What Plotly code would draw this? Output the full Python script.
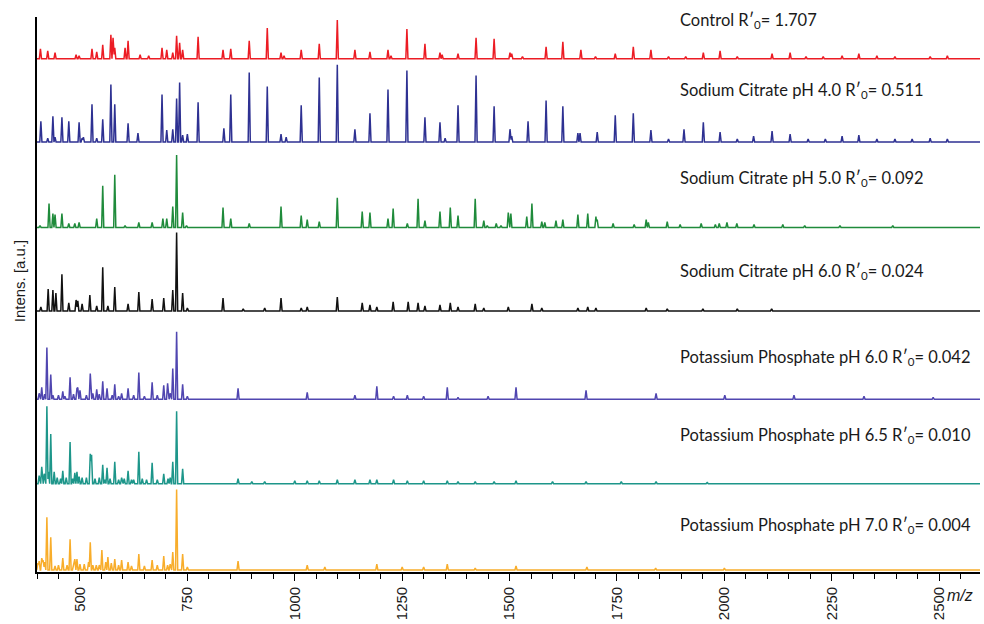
import numpy as np
import plotly.graph_objects as go

# ---------------- data ----------------
sample_names = [
    "Control R′<sub>0</sub>= 1.707",
    "Sodium Citrate pH 4.0 R′<sub>0</sub>= 0.511",
    "Sodium Citrate pH 5.0 R′<sub>0</sub>= 0.092",
    "Sodium Citrate pH 6.0 R′<sub>0</sub>= 0.024",
    "Potassium Phosphate pH 6.0 R′<sub>0</sub>= 0.042",
    "Potassium Phosphate pH 6.5 R′<sub>0</sub>= 0.010",
    "Potassium Phosphate pH 7.0 R′<sub>0</sub>= 0.004",
]

control_mz = [408, 425, 442, 491, 498, 528, 539, 553, 572, 577, 581, 605, 612, 640, 660, 691, 702, 716, 725, 732,
              739, 775, 833, 851, 894, 936, 968, 975, 1015, 1057, 1099, 1140, 1175, 1217, 1224, 1261, 1303, 1338,
              1343, 1380, 1422, 1464, 1501, 1505, 1530, 1585, 1624, 1666, 1700, 1746, 1788, 1829, 1870, 1910, 1951,
              1990, 2030, 2111, 2153, 2190, 2230, 2274, 2313, 2355, 2397, 2479, 2519]
control_int = [10, 8, 6, 4, 3, 10, 7, 14, 24, 21, 11, 11, 18, 4, 3, 11, 9, 6, 23, 16,
               9, 22, 9, 10, 18, 31, 6, 3, 9, 15, 39, 9, 7, 9, 3, 30, 15, 6,
               4, 5, 21, 20, 6, 5, 2, 12, 17, 9, 2, 5, 12, 9, 2, 2, 6,
               8, 2, 5, 6, 2, 2, 3, 5, 3, 2, 2, 3]

citrate40_mz = [409, 425, 437, 442, 458, 474, 498, 505, 508, 528, 539, 553, 572, 581, 612, 635, 691, 702, 716, 725,
                732, 739, 750, 775, 835, 851, 894, 936, 968, 980, 1015, 1057, 1099, 1140, 1175, 1217, 1261, 1303,
                1338, 1350, 1380, 1422, 1464, 1501, 1505, 1543, 1585, 1624, 1659, 1664, 1704, 1746, 1788, 1829, 1870,
                1906, 1951, 1990, 2030, 2068, 2111, 2153, 2195, 2235, 2274, 2313, 2355, 2397, 2437, 2479, 2519]
citrate40_int = [21, 4, 26, 5, 25, 21, 20, 4, 5, 38, 4, 23, 58, 38, 19, 9, 48, 12, 13, 44,
                 60, 7, 8, 40, 14, 48, 70, 56, 8, 5, 37, 65, 78, 13, 29, 53, 72, 25,
                 20, 4, 37, 67, 36, 13, 6, 21, 42, 36, 9, 9, 10, 27, 29, 12, 3,
                 13, 20, 10, 3, 6, 11, 8, 3, 3, 6, 7, 3, 3, 3, 4, 3]

citrate50_mz = [407, 428, 437, 442, 458, 474, 488, 498, 539, 553, 581, 605, 637, 668, 693, 702, 716, 725, 739, 748,
                833, 851, 894, 968, 1015, 1029, 1057, 1099, 1157, 1175, 1217, 1229, 1262, 1287, 1303, 1338, 1362,
                1380, 1420, 1440, 1448, 1469, 1480, 1497, 1503, 1540, 1552, 1575, 1582, 1608, 1624, 1659, 1682, 1701,
                1704, 1741, 1790, 1818, 1823, 1867, 1897, 1946, 1979, 1988, 2006, 2029, 2069, 2136, 2187, 2269, 2392]
citrate50_int = [2, 24, 14, 13, 14, 4, 4, 5, 9, 42, 53, 2, 5, 5, 9, 9, 21, 73, 15, 2,
                 20, 9, 4, 21, 12, 8, 6, 30, 16, 15, 9, 19, 4, 29, 7, 16, 20,
                 12, 29, 7, 2, 4, 2, 15, 14, 11, 24, 6, 5, 7, 8, 13, 14, 11,
                 8, 4, 3, 8, 5, 6, 3, 4, 3, 4, 5, 4, 3, 3, 2, 2, 2]

citrate60_mz = [409, 426, 437, 444, 458, 474, 491, 495, 505, 523, 539, 553, 565, 581, 612, 637, 668, 695, 716, 725,
                739, 750, 833, 880, 930, 968, 1015, 1029, 1099, 1157, 1175, 1191, 1229, 1264, 1287, 1303, 1338, 1362,
                1380, 1420, 1440, 1497, 1552, 1575, 1659, 1682, 1701, 1818, 1867, 1950, 2030, 2110]
citrate60_int = [4, 22, 21, 18, 37, 8, 11, 10, 7, 16, 5, 44, 5, 24, 7, 19, 12, 13, 21, 79,
                 18, 3, 13, 2, 3, 13, 3, 4, 14, 8, 6, 4, 9, 9, 8, 5, 6, 8,
                 4, 7, 3, 4, 7, 3, 3, 4, 3, 3, 2, 2, 2, 2]

phosphate60_mz = [405, 411, 418, 423, 432, 437, 450, 460, 465, 477, 485, 493, 495, 500, 515, 524, 530, 539, 545, 553,
                  563, 575, 581, 590, 597, 612, 625, 637, 650, 668, 680, 695, 704, 710, 716, 725, 739, 750, 868,
                  1029, 1140, 1191, 1230, 1262, 1300, 1355, 1380, 1450, 1515, 1678, 1841, 2001, 2162, 2325, 2486]
phosphate60_int = [6, 12, 5, 52, 25, 4, 4, 8, 3, 22, 5, 9, 10, 9, 4, 26, 6, 10, 5, 18,
                   11, 4, 15, 3, 6, 11, 4, 27, 3, 17, 4, 14, 16, 6, 31, 68, 15, 3, 11,
                   7, 4, 13, 3, 4, 3, 12, 2, 3, 12, 9, 6, 4, 4, 3, 2]

phosphate65_mz = [405, 411, 417, 423, 427, 432, 440, 447, 455, 460, 468, 477, 483, 488, 493, 498, 505, 515, 524, 527,
                  535, 545, 553, 558, 563, 570, 581, 590, 597, 603, 612, 620, 625, 637, 645, 655, 668, 680, 695,
                  705, 710, 716, 725, 739, 868, 900, 930, 1000, 1029, 1057, 1099, 1140, 1175, 1191, 1230, 1262,
                  1300, 1355, 1380, 1420, 1464, 1515, 1600, 1678, 1760, 1841, 1960]
phosphate65_int = [8, 17, 10, 78, 12, 50, 12, 6, 5, 13, 6, 42, 5, 11, 12, 7, 6, 6, 30, 29,
                   5, 6, 19, 4, 16, 5, 22, 4, 6, 5, 13, 4, 4, 32, 5, 4, 21, 4, 10,
                   5, 6, 22, 73, 15, 5, 2, 2, 3, 3, 3, 4, 4, 4, 4, 4, 3,
                   3, 3, 2, 2, 2, 3, 2, 2, 2, 2, 1]

phosphate70_mz = [402, 405, 411, 414, 418, 423, 432, 442, 450, 460, 470, 477, 485, 488, 493, 500, 510, 520, 524, 530,
                  538, 545, 551, 560, 565, 573, 581, 590, 597, 612, 620, 637, 650, 668, 680, 695, 704, 710, 716,
                  725, 739, 750, 868, 1029, 1070, 1191, 1250, 1300, 1355, 1420, 1515, 1680, 1840, 2000]
phosphate70_int = [7, 9, 12, 10, 8, 53, 33, 4, 5, 12, 5, 31, 6, 11, 11, 6, 6, 8, 28, 5,
                   5, 5, 20, 8, 13, 7, 11, 5, 10, 8, 4, 16, 4, 10, 5, 14, 5, 6, 18,
                   81, 16, 3, 9, 5, 3, 6, 3, 3, 6, 2, 4, 3, 2, 2]

spectra_mz = [control_mz, citrate40_mz, citrate50_mz, citrate60_mz, phosphate60_mz, phosphate65_mz, phosphate70_mz]
spectra_int = [control_int, citrate40_int, citrate50_int, citrate60_int, phosphate60_int, phosphate65_int, phosphate70_int]

# vertical stacking offsets (a.u.) for each spectrum
stack_offsets = [517, 433, 347, 263, 174, 89, 2]

tick_values = [500, 750, 1000, 1250, 1500, 1750, 2000, 2250, 2500]
tick_labels = ["500", "750", "1000", "1250", "1500", "1750", "2000", "2250", "2500"]

# ---------------- style ----------------
colors = ["#ec1c24", "#2e3192", "#1f8b3b", "#111111", "#5046b0", "#1d968a", "#f8ad2b"]
label_y = [555, 485, 396, 303, 216, 137, 47]
MZ_MIN, MZ_MAX = 400, 2595
HALF_WIDTH = 2.5


def spectrum_line(mz, inten):
    mz = np.asarray(mz, float)
    inten = np.asarray(inten, float)
    xs = np.unique(np.concatenate([[MZ_MIN, MZ_MAX], mz - HALF_WIDTH, mz, mz + HALF_WIDTH]))
    ys = np.zeros_like(xs)
    for m, h in zip(mz, inten):
        ys += h * np.clip(1 - np.abs(xs - m) / HALF_WIDTH, 0, None)
    return xs, ys


fig = go.Figure()
for mz, inten, off, col in zip(spectra_mz, spectra_int, stack_offsets, colors):
    xs, ys = spectrum_line(mz, inten)
    fig.add_trace(go.Scatter(x=xs, y=ys + off, mode="lines",
                             line=dict(color=col, width=1.5), hoverinfo="skip", showlegend=False))

for name, ly in zip(sample_names, label_y):
    fig.add_annotation(x=1892, y=ly, xref="x", yref="y", text=name, showarrow=False,
                       xanchor="left", yanchor="middle",
                       font=dict(family="Lato", size=16.5, color="#1a1a1a"))

fig.add_annotation(x=-0.019, y=0.524, xref="paper", yref="paper", text="Intens. [a.u.]",
                   showarrow=False, textangle=-90, xanchor="center", yanchor="middle",
                   font=dict(family="Liberation Sans", size=15, color="#1a1a1a"))
fig.add_annotation(x=0.979, y=-0.043, xref="paper", yref="paper", text="<i>m/z</i>",
                   showarrow=False, xanchor="center", yanchor="middle",
                   font=dict(family="Liberation Sans", size=16, color="#1a1a1a"))

fig.update_layout(
    width=984, height=624,
    margin=dict(l=37, r=4, t=17, b=48),
    paper_bgcolor="white", plot_bgcolor="white",
    xaxis=dict(range=[MZ_MIN, MZ_MAX], showgrid=False, zeroline=False,
               showline=True, linecolor="black", linewidth=1.6,
               tickmode="array", tickvals=tick_values, ticktext=tick_labels,
               ticks="outside", ticklen=7, tickwidth=1.4, tickcolor="black",
               tickangle=-90, tickfont=dict(family="Liberation Sans", size=15, color="#1a1a1a"),
               minor=dict(tickmode="linear", tick0=400, dtick=50, ticks="outside",
                          ticklen=5, tickwidth=1.4, tickcolor="black", showgrid=False)),
    yaxis=dict(range=[0, 559], showgrid=False, zeroline=False, showticklabels=False,
               showline=True, linecolor="black", linewidth=1.6, ticks=""),
)

fig.write_html("out.html")
